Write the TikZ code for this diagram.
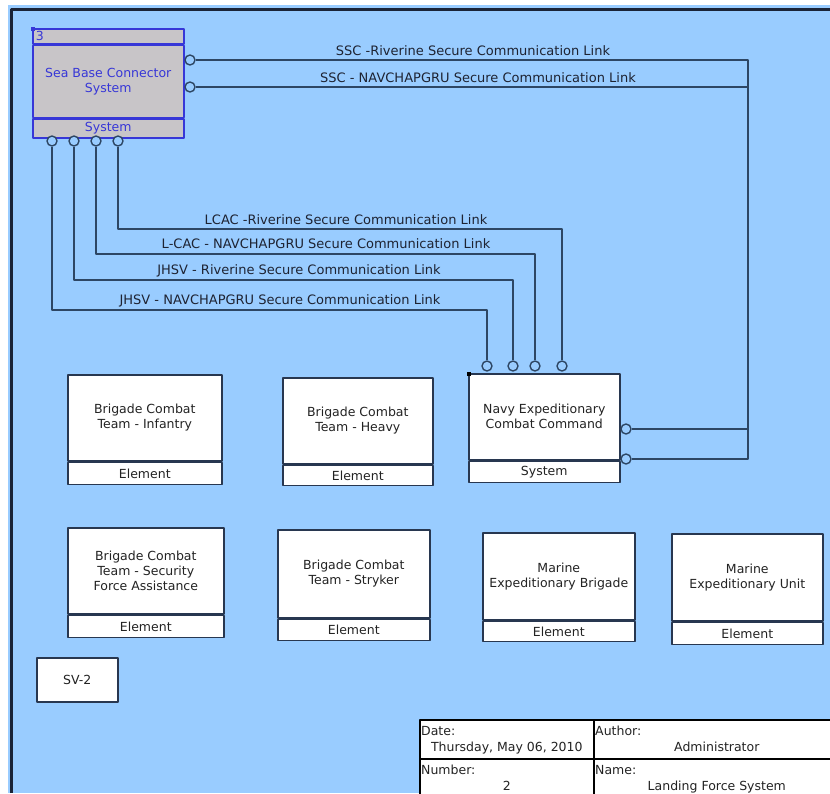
\documentclass[tikz,border=0pt]{standalone}
\usepackage{fontspec}
\setmainfont{DejaVu Sans}
\definecolor{bgblue}{RGB}{153,204,255}
\definecolor{framecol}{RGB}{25,35,55}
\definecolor{linkcol}{RGB}{45,70,100}
\definecolor{boxline}{RGB}{40,55,80}
\definecolor{sbcblue}{RGB}{55,55,215}
\definecolor{sbcgray}{RGB}{200,197,200}
\definecolor{textgray}{RGB}{35,35,35}
\definecolor{labelcol}{RGB}{30,35,50}
\newcommand{\boxfont}{\fontsize{12.5}{15}\selectfont}
\newcommand{\linkfont}{\fontsize{13}{15}\selectfont}
\begin{document}
\begin{tikzpicture}[x=1pt, y=-1pt, line join=round,
	part/.style={draw=boxline, line width=1.6pt, fill=white, text=textgray, inner sep=0pt, align=center, font=\boxfont},
	sbcpart/.style={part, draw=sbcblue, fill=sbcgray, text=sbcblue},
	foot/.style={part, anchor=north},
	port/.style={circle, draw=linkcol, fill=bgblue, line width=1.4pt, minimum size=10pt, inner sep=0pt},
	link/.style={draw=linkcol, line width=1.8pt},
	linklabel/.style={font=\linkfont, text=labelcol, anchor=base, inner sep=0pt},
	cell/.style={draw=black, line width=1.6pt, fill=white, anchor=north west, inner sep=0pt},
	celltext/.style={font=\boxfont, text=textgray, inner sep=0pt}]
	\clip (0,0) rectangle (830,793);
	\fill[white] (0,0) rectangle (830,793);
	\fill[bgblue] (8,5) rectangle (830,793);
	\draw[framecol, line width=3pt] (11.5,793) -- (11.5,9.5) -- (830,9.5);
	
	% sea base connector
	\node[sbcpart, minimum width=151, minimum height=15, anchor=north west, text width=145, align=left, inner xsep=3pt] (sbchead) at (32,28) {3};
	\node[sbcpart, minimum width=151, minimum height=72, anchor=north] (sbc) at (sbchead.south) {Sea Base Connector\\System};
	\node[sbcpart, minimum width=151, minimum height=19, anchor=north] (sbcfoot) at (sbc.south) {System};
	\fill[sbcblue] (31,27) rectangle (35,31);
	
	% navy expeditionary combat command
	\node[part, minimum width=151, minimum height=86, anchor=north west] (necc) at (468,373) {Navy Expeditionary\\Combat Command};
	\node[foot, minimum width=151, minimum height=21] (neccfoot) at (necc.south) {System};
	\fill[black] (467,372) rectangle (471,376);
	
	% ports
	\node[port] (sbcr1) at (190,60) {};
	\node[port] (sbcr2) at (190,87) {};
	\foreach \x/\n in {52/1,74/2,96/3,118/4}
		\node[port] (sbcb\n) at (\x,141) {};
	\foreach \x/\n in {487/1,513/2,535/3,562/4}
		\node[port] (neccb\n) at (\x,366) {};
	\node[port] (neccr1) at (626,429) {};
	\node[port] (neccr2) at (626,459) {};
	
	% links
	\coordinate (rail) at (748,0);
	\draw[link] (sbcr1.east) -| (rail |- neccr1) -- (neccr1.east);
	\draw[link] (sbcr2.east) -| (rail |- neccr2) -- (neccr2.east);
	\foreach \n/\y in {4/229,3/254,2/280,1/310}{
		\coordinate (lvl\n) at (0,\y);
		\draw[link] (sbcb\n.south) |- (neccb\n |- lvl\n) -- (neccb\n.north);
	}
	\node[linklabel] (lblsscr) at (473,55) {SSC -Riverine Secure Communication Link};
	\node[linklabel] (lblsscn) at (478,82) {SSC - NAVCHAPGRU Secure Communication Link};
	\node[linklabel] (lbllcacr) at (346,224) {LCAC -Riverine Secure Communication Link};
	\node[linklabel] (lbllcacn) at (326,248) {L-CAC - NAVCHAPGRU Secure Communication Link};
	\node[linklabel] (lbljhsvr) at (299,274) {JHSV - Riverine Secure Communication Link};
	\node[linklabel] (lbljhsvn) at (280,304) {JHSV - NAVCHAPGRU Secure Communication Link};
	
	% elements
	\node[part, minimum width=154, minimum height=86, anchor=north west] (bcti) at (67,374) {Brigade Combat\\Team - Infantry};
	\node[foot, minimum width=154, minimum height=22] (bctifoot) at (bcti.south) {Element};
	\node[part, minimum width=150, minimum height=86, anchor=north west] (bcth) at (282,377) {Brigade Combat\\Team - Heavy};
	\node[foot, minimum width=150, minimum height=20] (bcthfoot) at (bcth.south) {Element};
	\node[part, minimum width=156, minimum height=86, anchor=north west] (bcts) at (67,527) {Brigade Combat\\Team - Security\\Force Assistance};
	\node[foot, minimum width=156, minimum height=22] (bctsfoot) at (bcts.south) {Element};
	\node[part, minimum width=152, minimum height=88, anchor=north west] (bctk) at (277,529) {Brigade Combat\\Team - Stryker};
	\node[foot, minimum width=152, minimum height=21] (bctkfoot) at (bctk.south) {Element};
	\node[part, minimum width=152, minimum height=87, anchor=north west] (meb) at (482,532) {Marine\\Expeditionary Brigade};
	\node[foot, minimum width=152, minimum height=20] (mebfoot) at (meb.south) {Element};
	\node[part, minimum width=151, minimum height=87, anchor=north west] (meu) at (671,533) {Marine\\Expeditionary Unit};
	\node[foot, minimum width=151, minimum height=22] (meufoot) at (meu.south) {Element};
	\node[part, minimum width=81, minimum height=44, anchor=north west] (sv) at (36,657) {SV-2};
	
	% title block
	\node[cell, minimum width=174, minimum height=39] (date) at (419,719) {};
	\node[cell, minimum width=246, minimum height=39] (author) at (593,719) {};
	\node[cell, minimum width=174, minimum height=40] (number) at (419,758) {};
	\node[cell, minimum width=246, minimum height=40] (name) at (593,758) {};
	\node[celltext, anchor=base west] (datelbl) at ([shift={(2pt,-16pt)}]date.north west) {Date:};
	\node[celltext, anchor=base] (dateval) at ([yshift=-32pt]date.north) {Thursday, May 06, 2010};
	\node[celltext, anchor=base west] (authorlbl) at ([shift={(2pt,-16pt)}]author.north west) {Author:};
	\node[celltext, anchor=base] (authorval) at ([yshift=-32pt]author.north) {Administrator};
	\node[celltext, anchor=base west] (numberlbl) at ([shift={(2pt,-16pt)}]number.north west) {Number:};
	\node[celltext, anchor=base] (numberval) at ([yshift=-32pt]number.north) {2};
	\node[celltext, anchor=base west] (namelbl) at ([shift={(2pt,-16pt)}]name.north west) {Name:};
	\node[celltext, anchor=base] (nameval) at ([yshift=-32pt]name.north) {Landing Force System};
\end{tikzpicture}
\end{document}
